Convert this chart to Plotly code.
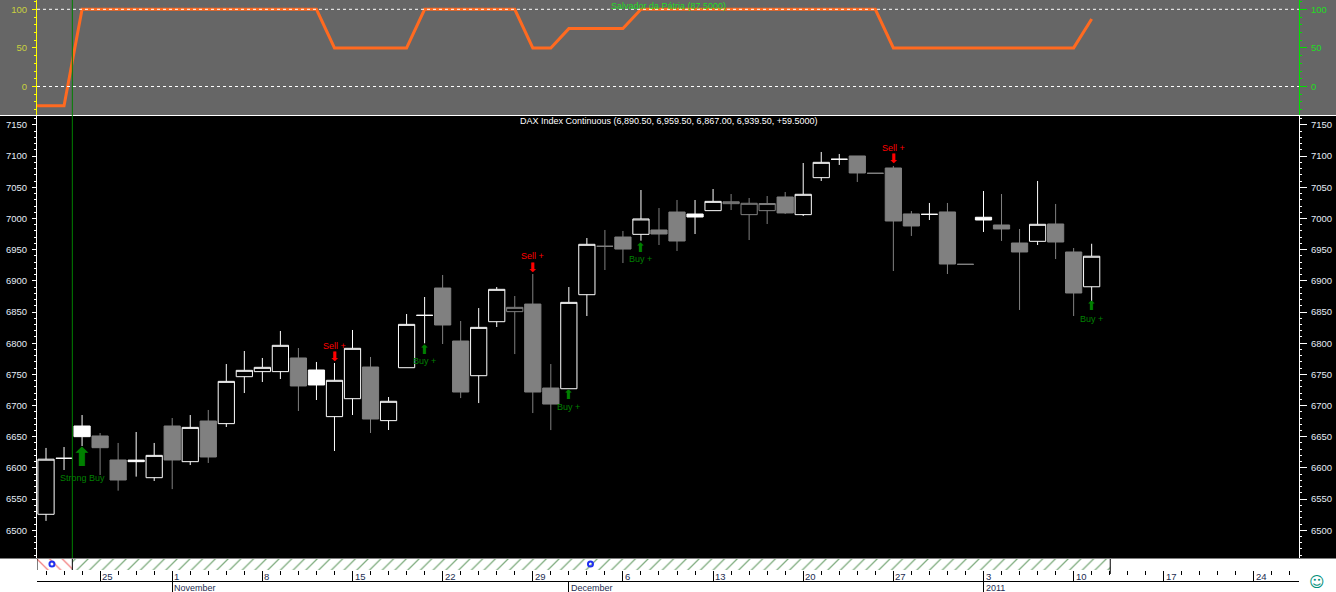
import plotly.graph_objects as go

# ---------- data ----------
opens = [6525.6,6615.4,6667.2,6651.2,6612.7,6612.5,6584.3,6667.2,6610,6675.2,6671,6746.3,6754.4,6754.4,6776.3,6757,6682.2,6711,6761.8,6675.8,
         6760.7,6844.7,6888.5,6803.5,6747.9,6834.5,6850.6,6862.8,6728.1,6727,6877.8,6955.4,6970.3,6974.6,6981.6,7010.4,7007.2,7012.6,7023.8,7006.2,
         7012.6,7034.5,7006.2,7065.5,7095,7100.3,7072.5,7081,7007.3,7006.7,7010.5,6926.5,7002,6989.6,6960.7,6963.4,6991.2,6946.3,6890.5]
highs = [6632,6633.5,6684.8,6656,6640,6657.6,6640,6680,6684.8,6692.9,6766.6,6787.5,6776.3,6819.6,6792.3,6769.9,6768.3,6821.2,6777.9,6713.7,
         6846.8,6874.1,6909.4,6835.6,6856.4,6890.1,6875.7,6911,6766.6,6890.1,6968.7,6981.6,6980,7045.7,7016.8,7029.7,7029.7,7047.3,7039.3,7032.9,
         7036.1,7042.5,7089,7106.7,7103.5,7100.3,7072.5,7084.3,7012,7024.9,7024.9,6926.5,7044.1,7039.3,6983.2,7060.2,7023.3,6952.7,6959.5]
lows = [6515,6596.6,6635.1,6588.6,6563.5,6586,6579,6566,6604.6,6607.9,6665.6,6720.1,6737.8,6742.6,6691.3,6708.9,6627.1,6684.8,6656,6660.8,
        6760.7,6799.8,6798.7,6712,6704,6826,6782.6,6688,6660.7,6727,6843.6,6917.4,6928.6,6964.4,6957.5,6947.9,6975.1,7012.6,7013.6,6965.5,
        6991.2,7007.3,7004,7060.2,7085.9,7058.6,7072.5,6915.8,6972,6997.6,6911,6926.5,6978.4,6964,6853.3,6957.5,6935,6843.6,6867]
closes = [6614,6615.4,6650.1,6632.4,6580.6,6610,6620.1,6612.7,6665,6617.5,6738.8,6756.5,6761.3,6796.6,6731.4,6733,6740.5,6791.8,6678.4,6706.8,
          6830.2,6844.7,6829.2,6721.7,6825.4,6886.4,6857.5,6721.7,6702.4,6865.5,6958.6,6955.4,6951,6999.3,6975.1,6963.9,7002.4,7027.5,7026.8,7024.4,
          7024.0,7008.9,7038.8,7090.1,7095,7073,7072.5,6996,6988,7006.7,6927,6926.5,6997.6,6983.2,6946.3,6990.7,6962.3,6880.5,6939.5]

osc_values = [-25,-25,100,100,100,100,100,100,100,100,100,100,100,100,100,100,50,50,50,50,50,100,100,100,100,100,100,50,50,75,75,75,75,
              100,100,100,100,100,100,100,100,100,100,100,100,100,100,50,50,50,50,50,50,50,50,50,50,50,87.5]
osc_levels = [0, 100]

price_ticks = [6500,6550,6600,6650,6700,6750,6800,6850,6900,6950,7000,7050,7100,7150]
osc_ticks = [0, 50, 100]

week_ticks = [3,7,12,17,22,27,32,37,42,47,52,57,62,67]
week_labels = ["25","1","8","15","22","29","6","13","20","27","3","10","17","24"]
month_ticks = [7,29,52]
month_labels = ["November","December","2011"]

signal_bar = [2,21,29,33,58,16,27,47]
signal_text = ["Strong Buy","Buy +","Buy +","Buy +","Buy +","Sell +","Sell +","Sell +"]
signal_arrow = [6616.7,6790.7,6717,6954,6859.7,6779,6922,7095.5]
signal_label = [6583.8,6771.5,6697.7,6935,6839,6795.5,6940,7113]

cursor_bar = 1.46
zone_edges = [-0.5,1.46,59.03]
zone_colors = ["#e80000","#005a00"]
zone_hatch = ["\\","/"]
event_bars = [0.33,30.2]

title_text = "DAX Index Continuous (6,890.50, 6,959.50, 6,867.00, 6,939.50, +59.5000)"
osc_text = "Salvador da Pátria (87.5000)"

# ---------- layout constants ----------
W, H = 1336, 592
FONT = "Liberation Sans"
def py(px):
    return (H - px) / H
X_DOM = [37 / W, 1299 / W]
X_RANGE = [-0.5, 69.5]

fig = go.Figure()

# candles: hollow when close >= open, white when close > previous close
groups = {}
for i in range(len(closes)):
    white = i == 0 or closes[i] > closes[i - 1]
    hollow = closes[i] >= opens[i]
    groups.setdefault((white, hollow), []).append(i)

for (white, hollow), idx in groups.items():
    col = "#ffffff" if white else "#808080"
    fill = "#000000" if hollow else col
    side = dict(line=dict(color=col, width=1), fillcolor=fill)
    fig.add_trace(go.Candlestick(
        x=idx,
        open=[opens[i] for i in idx], high=[highs[i] for i in idx],
        low=[lows[i] for i in idx], close=[closes[i] for i in idx],
        increasing=side, decreasing=side,
        xaxis="x", yaxis="y", showlegend=False, hoverinfo="skip",
    ))

# invisible carrier for the right price axis
fig.add_trace(go.Scatter(x=[0], y=[closes[0]], xaxis="x", yaxis="y2", mode="markers",
                         marker=dict(opacity=0), showlegend=False, hoverinfo="skip"))

# oscillator
osc_x = [-0.5] + list(range(len(osc_values)))
osc_y = [osc_values[0]] + osc_values
fig.add_trace(go.Scatter(x=osc_x, y=osc_y, xaxis="x2", yaxis="y3", mode="lines",
                         line=dict(color="#ff6a20", width=3), showlegend=False, hoverinfo="skip"))
fig.add_trace(go.Scatter(x=[0], y=[0], xaxis="x2", yaxis="y4", mode="markers",
                         marker=dict(opacity=0), showlegend=False, hoverinfo="skip"))

# date band zones
for k, col in enumerate(zone_colors):
    x0, x1 = zone_edges[k], zone_edges[k + 1]
    fig.add_trace(go.Bar(x=[(x0 + x1) / 2], y=[1], width=[x1 - x0], base=0, xaxis="x3", yaxis="y5",
                         marker=dict(color="#ffffff", line=dict(width=0),
                                     pattern=dict(shape=zone_hatch[k], fgcolor=col, bgcolor="#ffffff", size=9, solidity=0.14)),
                         showlegend=False, hoverinfo="skip"))
fig.add_trace(go.Scatter(x=event_bars, y=[0.55] * len(event_bars), xaxis="x3", yaxis="y5", mode="markers",
                         marker=dict(symbol="circle-open", size=5, color="#2030f0", line=dict(width=2, color="#2030f0")),
                         showlegend=False, hoverinfo="skip"))
fig.add_trace(go.Scatter(x=[0], y=[0], xaxis="x4", yaxis="y5", mode="markers",
                         marker=dict(opacity=0), showlegend=False, hoverinfo="skip"))

# ---------- backgrounds and lines ----------
shapes = [
    dict(type="rect", xref="paper", yref="paper", x0=0, x1=1, y0=py(115), y1=1,
         fillcolor="#666666", line_width=0, layer="below"),
    dict(type="rect", xref="paper", yref="paper", x0=0, x1=1, y0=py(558.5), y1=py(116),
         fillcolor="#000000", line_width=0, layer="below"),
    dict(type="line", xref="x", yref="paper", x0=cursor_bar, x1=cursor_bar, y0=py(558), y1=1,
         line=dict(color="#008000", width=1)),
]
for lev in osc_levels:
    shapes.append(dict(type="line", xref="x2", yref="y3", x0=X_RANGE[0], x1=X_RANGE[1], y0=lev, y1=lev,
                       line=dict(color="#ffffff", width=1, dash="3px,3px")))
for e, top in zip(zone_edges, [570, 570, 574]):
    shapes.append(dict(type="line", xref="x3", yref="paper", x0=e, x1=e, y0=py(top), y1=py(559),
                       line=dict(color="#000000", width=1)))

# ---------- annotations ----------
ann = []
def text(x, y, s, color, size=9, xref="paper", yref="paper", xanchor="center", family=FONT):
    ann.append(dict(x=x, y=y, text=s, xref=xref, yref=yref, showarrow=False, xanchor=xanchor,
                    yanchor="middle", font=dict(family=family, size=size, color=color)))

text(668 / W, py(121), title_text, "#ffffff", size=9)
text(668.5 / W, py(6), osc_text, "#22dd22", size=9)

for b, s, mid, lab in zip(signal_bar, signal_text, signal_arrow, signal_label):
    sell = s.startswith("Sell")
    col = "#ff0000" if sell else "#008000"
    size = 26 if s.startswith("Strong") else 13
    text(b, mid, "\u2b07" if sell else "\u2b06", col, size=size, xref="x", yref="y", family="DejaVu Sans")
    text(b, lab, s, col, size=9, xref="x", yref="y")

for b, s in zip(week_ticks, week_labels):
    text(b, py(576), s, "#1c2c50", size=9.5, xref="x3", xanchor="left")
for b, s in zip(month_ticks, month_labels):
    text(b, py(587.5), s, "#1c2c50", size=9, xref="x3", xanchor="left")
text(1317 / W, py(582), "\u263a", "#00907c", size=15, family="DejaVu Sans")

# ---------- axes ----------
def hidden_x(anchor, **kw):
    return dict(domain=X_DOM, range=X_RANGE, anchor=anchor, showticklabels=False, showgrid=False,
                zeroline=False, ticks="", showline=False, fixedrange=True, **kw)

def y_axis(dom, rng, ticks, color, labelcolor, side, ticklen, standoff, **kw):
    return dict(domain=dom, range=rng, tickmode="array", tickvals=ticks, side=side,
                ticks="outside", ticklen=ticklen, tickwidth=1, tickcolor=color,
                showline=True, linecolor=color, linewidth=1, showgrid=False, zeroline=False,
                minor=dict(ticks="outside", ticklen=2, tickcolor=color, tickwidth=1, dtick=10, tick0=0, showgrid=False),
                tickfont=dict(family=FONT, size=9.5, color=labelcolor), ticklabelstandoff=standoff, fixedrange=True, **kw)

price_dom = [py(558), py(116)]
osc_dom = [py(115), 1]
price_rng = [6455.5, 7164.4]
osc_rng = [-36.9, 112.05]

fig.update_layout(
    width=W, height=H, margin=dict(l=0, r=0, t=0, b=0), autosize=False,
    paper_bgcolor="#ffffff", plot_bgcolor="rgba(0,0,0,0)",
    boxmode="overlay", boxgap=0.1, boxgroupgap=0, barmode="overlay", showlegend=False,
    hovermode=False, shapes=shapes, annotations=ann,
    xaxis=hidden_x("y", rangeslider=dict(visible=False)),
    xaxis2=hidden_x("y3"),
    xaxis3=dict(domain=X_DOM, range=X_RANGE, anchor="y5", showticklabels=False, showgrid=False, zeroline=False,
                showline=False, tickmode="array", tickvals=week_ticks, ticks="outside", ticklen=11,
                tickcolor="#000000", tickwidth=1, fixedrange=True,
                minor=dict(ticks="outside", ticklen=4, tickcolor="#000000", tickwidth=1, dtick=1, tick0=0, showgrid=False)),
    xaxis4=dict(domain=X_DOM, range=X_RANGE, overlaying="x3", anchor="free", position=py(581), side="bottom",
                showticklabels=False, showgrid=False, zeroline=False, showline=True, linecolor="#000000", linewidth=1,
                tickmode="array", tickvals=month_ticks, ticks="outside", ticklen=11, tickcolor="#000000", tickwidth=1,
                fixedrange=True),
    yaxis=y_axis(price_dom, price_rng, price_ticks, "#ffffff", "#e4ecf6", "left", 4, 3, anchor="x"),
    yaxis2=y_axis(price_dom, price_rng, price_ticks, "#ffffff", "#e4ecf6", "right", 7, 2, anchor="x", overlaying="y"),
    yaxis3=y_axis(osc_dom, osc_rng, osc_ticks, "#ffff00", "#c8d040", "left", 4, 3, anchor="x2"),
    yaxis4=y_axis(osc_dom, osc_rng, osc_ticks, "#00e000", "#22dd22", "right", 7, 2, anchor="x2", overlaying="y3"),
    yaxis5=dict(domain=[py(570), py(559)], range=[0, 1], anchor="x3", visible=False, fixedrange=True),
)

fig.write_html("out.html", config={"displayModeBar": False},
               post_script="document.body.style.margin='0';document.body.style.overflow='hidden';")
